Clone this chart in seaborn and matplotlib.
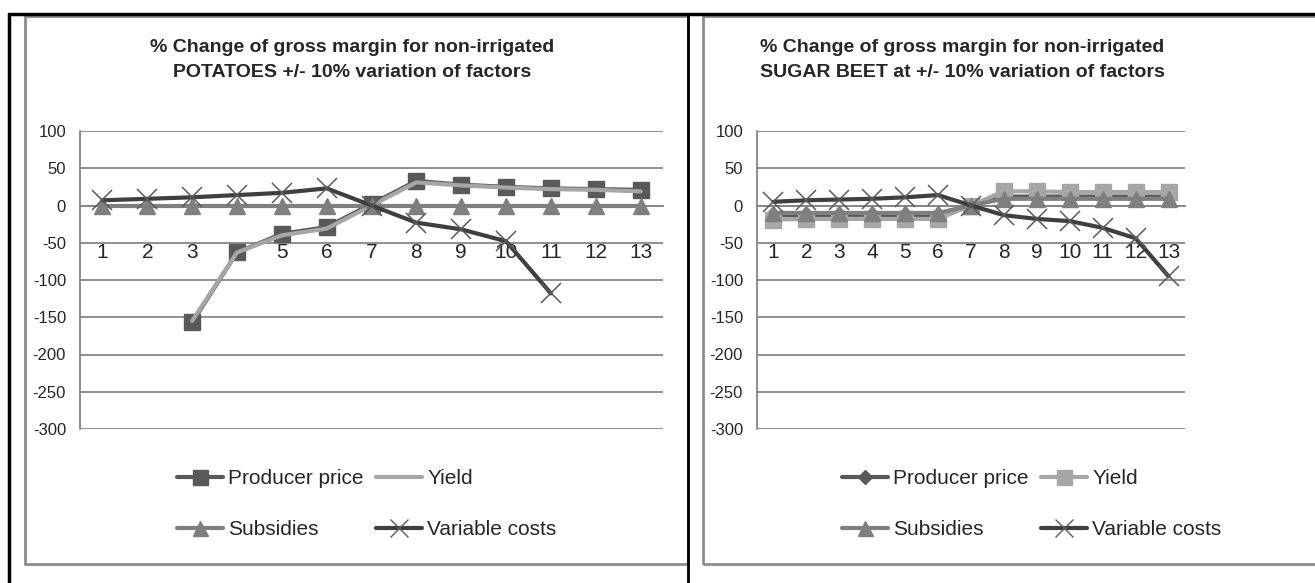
import numpy as np
import pandas as pd
import matplotlib
matplotlib.use('Agg')
import matplotlib.pyplot as plt
from matplotlib.lines import Line2D
import seaborn as sns

# category positions on the x axis
steps = list(range(1, 13 + 1))
series_names = ['Producer price', 'Yield', 'Subsidies', 'Variable costs']

# potatoes (left chart)
pot_price = [np.nan, np.nan, -157, -63, -38, -29, 2, 33, 28, 25, 23, 22, 21]
pot_yield = [np.nan, np.nan, -155, -63, -40, -31, 0, 31, 27, 24, 22, 21, 19]
pot_subs = [0, 0, 0, 0, 0, 0, 0, 0, 0, 0, 0, 0, 0]
pot_var = [7, 9, 11, 14, 17, 23, 0, -23, -32, -48, -118, np.nan, np.nan]

# sugar beet (right chart)
sb_price = [-13, -13, -13, -13, -13, -13, 0, 12, 12, 12, 12, 12, 12]
sb_yield = [-19, -18, -18, -18, -18, -18, 0, 19, 19, 18, 18, 18, 18]
sb_subs = [-10, -10, -10, -10, -10, -10, 0, 9, 9, 9, 9, 9, 9]
sb_var = [5, 7, 8, 9, 11, 14, 0, -13, -18, -21, -30, -44, -95]

yticks = [100, 50, 0, -50, -100, -150, -200, -250, -300]

titles = ['% Change of gross margin for non-irrigated\nPOTATOES +/- 10% variation of factors',
          '% Change of gross margin for non-irrigated\nSUGAR BEET at +/- 10% variation of factors']

colors = ['#595959', '#a6a6a6', '#7f7f7f', '#3f3f3f']

sns.set_style('white')
plt.rcParams['font.family'] = ['Liberation Sans', 'DejaVu Sans']

fig = plt.figure(figsize=(13.15, 5.83), dpi=100)

ax_l = fig.add_axes([80 / 1315, 1 - 429 / 583, 583 / 1315, 298 / 583])
ax_r = fig.add_axes([757 / 1315, 1 - 429 / 583, 428 / 1315, 298 / 583])


def draw(ax, vals, markers, msizes):
    frames = []
    for name, v in zip(series_names, vals):
        frames.append(pd.DataFrame({'step': steps, 'value': v, 'series': name}))
    df = pd.concat(frames).dropna()
    for i, name in enumerate(series_names):
        sub = df[df['series'] == name]
        mk = markers[i]
        kw = dict(marker=mk, markersize=msizes[i], markeredgecolor=colors[i],
                  markerfacecolor=colors[i], markeredgewidth=1)
        if mk == 'x':
            kw['markeredgewidth'] = 1.1
            kw['markeredgecolor'] = '#5a5a5a'
        if mk is None:
            kw = {}
        sns.lineplot(data=sub, x='step', y='value', ax=ax, color=colors[i],
                     linewidth=3, legend=False, zorder=3 + i, **kw)
    ax.set_xlim(0.5, 13.5)
    ax.set_ylim(-300, 100)
    ax.set_yticks(yticks)
    ax.set_yticklabels([str(t) for t in yticks], fontsize=12)
    ax.yaxis.grid(True, color='#868686', linewidth=1.3)
    ax.set_axisbelow(True)
    for s in ['top', 'right']:
        ax.spines[s].set_visible(False)
    ax.spines['left'].set_color('#868686')
    ax.spines['left'].set_linewidth(1.3)
    ax.spines['bottom'].set_position(('data', 0))
    ax.spines['bottom'].set_color('#868686')
    ax.spines['bottom'].set_linewidth(1.3)
    ax.set_xticks(steps)
    ax.set_xticklabels([str(s) for s in steps], fontsize=15)
    ax.tick_params(axis='x', length=0, pad=27)
    ax.tick_params(axis='y', length=0, pad=10)
    ax.set_xlabel('')
    ax.set_ylabel('')


draw(ax_l, [pot_price, pot_yield, pot_subs, pot_var], ['s', None, '^', 'x'], [12, 0, 12, 14])
draw(ax_r, [sb_price, sb_yield, sb_subs, sb_var], ['D', 's', '^', 'x'], [8, 12, 12, 14])

# titles
fig.text(352 / 1315, 1 - 60 / 583, titles[0], ha='center', va='center',
         fontsize=14, fontweight='bold', linespacing=1.6)
fig.text(962 / 1315, 1 - 60 / 583, titles[1], ha='center', va='center',
         fontsize=14, fontweight='bold', linespacing=1.6)


def legend_for(markers, msizes, x0):
    handles = []
    for i, name in enumerate(series_names):
        mk = markers[i]
        ec = '#5a5a5a' if mk == 'x' else colors[i]
        handles.append(Line2D([], [], color=colors[i], linewidth=3, marker=mk if mk else '',
                              markersize=msizes[i] * 0.9, markerfacecolor=colors[i],
                              markeredgecolor=ec, markeredgewidth=1))
    # legend fills column by column, so reorder to get row order
    order = [0, 2, 1, 3]
    fig.legend([handles[k] for k in order], [series_names[k] for k in order],
               loc='upper left', ncol=2, frameon=False,
               bbox_to_anchor=(x0 / 1315, 1 - 469 / 583), fontsize=15,
               handlelength=2.2, handletextpad=0.25, columnspacing=0.6,
               labelspacing=1.55, borderpad=0, borderaxespad=0)


legend_for(['s', None, '^', 'x'], [12, 0, 12, 14], 177)
legend_for(['D', 's', '^', 'x'], [8, 12, 12, 14], 842)

# table borders and chart frames
gray = '#8c8c8c'
fig.add_artist(plt.Rectangle((25 / 1315, 1 - 564 / 583), (688 - 25) / 1315, (564 - 16) / 583,
                             fill=False, edgecolor=gray, linewidth=2, transform=fig.transFigure))
fig.add_artist(plt.Rectangle((703 / 1315, 1 - 564 / 583), (1330 - 703) / 1315, (564 - 16) / 583,
                             fill=False, edgecolor=gray, linewidth=2, transform=fig.transFigure))
fig.add_artist(Line2D([9 / 1315, 1], [1 - 14 / 583, 1 - 14 / 583], color='black', linewidth=2.5,
                      transform=fig.transFigure))
fig.add_artist(Line2D([9 / 1315, 9 / 1315], [0, 1 - 14 / 583], color='black', linewidth=2.5,
                      transform=fig.transFigure))
fig.add_artist(Line2D([688 / 1315, 688 / 1315], [0, 1 - 14 / 583], color='black', linewidth=2,
                      transform=fig.transFigure))

fig.savefig('out.png', dpi=100)
